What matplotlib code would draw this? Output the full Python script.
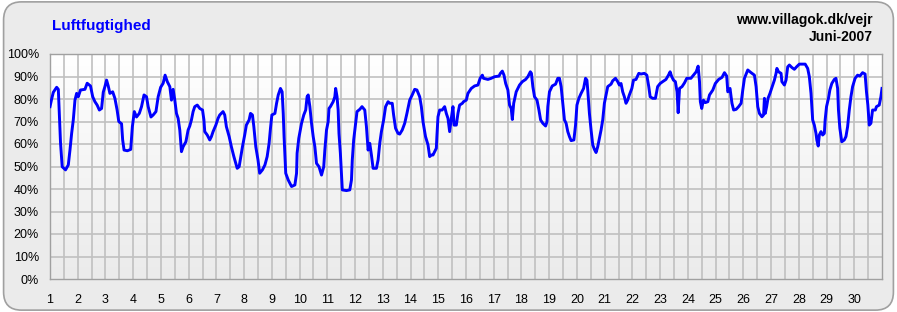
import numpy as np
import matplotlib
matplotlib.use("Agg")
import matplotlib.pyplot as plt
from matplotlib.patches import FancyBboxPatch

plt.rcParams['font.family'] = ['Liberation Sans', 'DejaVu Sans']

# time as day of month (decimal), relative humidity in %
day = [
    1.00, 1.06, 1.12, 1.24, 1.30, 1.34, 1.38, 1.44, 1.56, 1.66, 1.72, 1.78, 1.84, 1.90, 1.96,
    2.02, 2.10, 2.26, 2.34, 2.46, 2.54, 2.62, 2.70, 2.78, 2.86, 2.92, 2.98,
    3.04, 3.10, 3.16, 3.26, 3.34, 3.42, 3.48, 3.58, 3.62, 3.67, 3.79, 3.91, 3.97,
    4.04, 4.12, 4.22, 4.30, 4.39, 4.48, 4.54, 4.64, 4.72, 4.82, 4.90, 4.99,
    5.08, 5.15, 5.23, 5.32, 5.38, 5.44, 5.50, 5.56, 5.62, 5.68, 5.74, 5.80, 5.90, 5.98,
    6.04, 6.10, 6.16, 6.22, 6.31, 6.40, 6.50, 6.55, 6.58, 6.67, 6.76, 6.82, 6.88, 6.98,
    7.06, 7.12, 7.24, 7.30, 7.36, 7.46, 7.54, 7.63, 7.70, 7.75, 7.82, 7.87, 7.94,
    8.02, 8.08, 8.18, 8.23, 8.30, 8.35, 8.42, 8.50, 8.56, 8.66, 8.75, 8.83, 8.90, 8.95,
    9.00, 9.11, 9.17, 9.23, 9.31, 9.37, 9.41, 9.44, 9.50, 9.59, 9.71, 9.83, 9.89, 9.91, 9.97,
    10.07, 10.15, 10.22, 10.27, 10.31, 10.37, 10.43, 10.49, 10.55, 10.61, 10.70, 10.79, 10.87, 10.91, 10.97,
    11.03, 11.06, 11.11, 11.21, 11.27, 11.30, 11.35, 11.39, 11.42, 11.47, 11.51, 11.54, 11.69, 11.81, 11.87, 11.90, 11.95,
    12.02, 12.07, 12.17, 12.25, 12.35, 12.41, 12.47, 12.53, 12.59, 12.65, 12.77, 12.83, 12.89, 12.95,
    13.03, 13.10, 13.19, 13.25, 13.34, 13.39, 13.46, 13.55, 13.61, 13.70, 13.79, 13.87, 13.97,
    14.06, 14.15, 14.23, 14.33, 14.39, 14.45, 14.54, 14.63, 14.69, 14.75, 14.81, 14.87, 14.93, 14.95, 14.99,
    15.05, 15.14, 15.23, 15.29, 15.35, 15.41, 15.47, 15.53, 15.57, 15.65, 15.71, 15.77, 15.87, 15.91,
    16.01, 16.07, 16.19, 16.31, 16.43, 16.51, 16.59, 16.63, 16.79, 16.91,
    17.03, 17.19, 17.24, 17.31, 17.37, 17.43, 17.51, 17.57, 17.63, 17.67, 17.72, 17.81, 17.93,
    18.03, 18.15, 18.23, 18.32, 18.36, 18.41, 18.47, 18.56, 18.63, 18.69, 18.77, 18.87, 18.92, 18.95,
    19.01, 19.11, 19.23, 19.31, 19.37, 19.43, 19.49, 19.55, 19.61, 19.67, 19.73, 19.79, 19.89, 19.95,
    20.00, 20.07, 20.15, 20.24, 20.31, 20.36, 20.39, 20.45, 20.51, 20.57, 20.63, 20.69, 20.75, 20.81, 20.87, 20.93, 20.99,
    21.05, 21.11, 21.23, 21.29, 21.39, 21.47, 21.53, 21.59, 21.65, 21.71, 21.77, 21.83, 21.89, 21.98,
    22.04, 22.13, 22.23, 22.31, 22.43, 22.52, 22.59, 22.64, 22.73, 22.83, 22.91,
    23.00, 23.09, 23.21, 23.30, 23.36, 23.41, 23.48, 23.55, 23.61, 23.65, 23.70, 23.79, 23.88, 23.96,
    24.11, 24.20, 24.30, 24.37, 24.42, 24.45, 24.50, 24.56, 24.63, 24.72, 24.78, 24.90, 24.99,
    25.11, 25.23, 25.32, 25.40, 25.44, 25.52, 25.59, 25.65, 25.74, 25.83, 25.92, 25.98,
    26.04, 26.16, 26.28, 26.40, 26.46, 26.52, 26.58, 26.67, 26.73, 26.76, 26.79, 26.84, 26.89, 26.96,
    27.06, 27.12, 27.18, 27.21, 27.27, 27.36, 27.39, 27.48, 27.54, 27.60, 27.66, 27.75, 27.84, 27.92,
    28.02, 28.14, 28.23, 28.32, 28.38, 28.44, 28.50, 28.56, 28.62, 28.65, 28.70, 28.74, 28.80, 28.86, 28.92, 28.95,
    29.00, 29.07, 29.12, 29.19, 29.28, 29.34, 29.40, 29.43, 29.48, 29.55, 29.64, 29.70, 29.76, 29.82, 29.88, 29.94,
    30.03, 30.12, 30.20, 30.30, 30.39, 30.44, 30.49, 30.54, 30.60, 30.66, 30.76, 30.80, 30.90, 30.96, 31.00,
]
humidity = [
    76.6, 80.0, 83.0, 85.2, 84.3, 72.0, 60.3, 49.9, 48.5, 50.7, 57.3, 64.7, 70.7, 79.5, 82.5,
    81.0, 84.0, 84.3, 87.0, 85.8, 81.0, 78.8, 77.3, 75.1, 75.8, 83.0, 85.5,
    88.4, 85.8, 82.5, 83.2, 80.3, 75.1, 70.0, 69.0, 61.8, 57.3, 57.0, 57.6, 67.7,
    74.4, 72.0, 73.6, 76.6, 81.8, 81.0, 76.6, 72.0, 72.9, 74.4, 81.0, 85.2,
    87.0, 90.6, 87.7, 85.5, 79.5, 84.3, 79.5, 73.6, 71.4, 66.2, 56.6, 58.8, 61.0, 66.2,
    68.0, 70.7, 74.4, 76.6, 77.3, 75.8, 75.1, 70.7, 65.5, 64.0, 61.8, 63.3, 65.5, 68.4,
    71.4, 72.9, 74.4, 72.9, 67.7, 63.3, 58.8, 54.4, 51.4, 49.2, 49.9, 53.6, 58.8,
    64.0, 68.4, 70.7, 73.6, 72.9, 67.7, 58.8, 52.9, 47.0, 48.5, 50.7, 54.4, 60.3, 67.0,
    72.9, 73.6, 78.1, 81.8, 84.7, 83.2, 73.6, 63.3, 47.0, 44.0, 41.1, 41.8, 47.0, 55.9, 62.5,
    69.2, 72.9, 75.1, 81.0, 81.8, 76.6, 69.2, 63.3, 58.8, 51.4, 49.9, 46.2, 49.9, 57.3, 66.2,
    69.9, 75.8, 76.6, 78.8, 81.0, 84.7, 81.0, 75.1, 64.7, 55.9, 47.0, 39.6, 39.3, 39.6, 44.0, 52.9, 61.8,
    69.2, 74.4, 75.4, 76.6, 75.1, 67.7, 57.3, 60.3, 55.1, 49.2, 49.2, 52.9, 60.3, 65.5,
    70.7, 76.6, 78.8, 78.1, 78.1, 72.9, 67.0, 64.7, 64.4, 66.2, 69.2, 73.6, 79.5,
    81.8, 84.3, 84.0, 81.0, 76.6, 69.9, 63.3, 59.6, 54.4, 55.1, 55.1, 56.6, 58.1, 63.3, 72.1,
    75.1, 75.1, 76.6, 73.6, 71.4, 65.5, 71.4, 76.6, 68.4, 68.4, 73.6, 77.3, 78.1, 78.8,
    79.5, 82.5, 84.7, 85.8, 86.2, 89.2, 90.6, 89.2, 88.7, 89.2,
    89.9, 90.2, 91.4, 92.4, 90.6, 86.9, 84.0, 77.3, 75.8, 70.9, 78.1, 83.2, 86.2,
    87.7, 88.7, 89.9, 92.1, 91.4, 85.5, 81.0, 79.5, 75.1, 70.7, 69.2, 68.0, 69.9, 76.6,
    83.2, 85.8, 86.6, 89.2, 89.2, 85.5, 78.1, 70.7, 69.2, 65.5, 63.3, 61.5, 61.8, 68.4,
    77.3, 80.3, 82.5, 84.7, 89.2, 88.4, 84.0, 73.6, 66.2, 59.6, 57.6, 56.2, 58.8, 62.5, 66.2, 70.7, 78.1,
    81.8, 85.5, 86.6, 88.1, 89.2, 87.7, 86.2, 86.9, 83.2, 81.0, 78.1, 79.5, 81.8, 84.7,
    88.4, 88.7, 91.4, 91.1, 91.4, 90.6, 85.5, 81.0, 80.3, 80.3, 85.5,
    86.9, 87.7, 88.7, 90.6, 92.1, 90.2, 88.4, 87.7, 83.2, 73.9, 84.7, 85.5, 87.2, 89.2,
    89.2, 90.6, 92.1, 94.6, 87.7, 78.8, 75.8, 79.5, 78.4, 78.8, 81.8, 84.0, 86.9,
    88.7, 89.6, 91.7, 90.2, 83.2, 84.7, 78.1, 75.1, 75.4, 76.6, 78.1, 84.0,
    89.2, 92.9, 91.7, 90.6, 85.5, 76.6, 73.6, 72.1, 72.9, 80.3, 73.6, 76.6, 80.3, 82.5,
    86.2, 88.4, 91.4, 93.6, 92.1, 91.4, 87.7, 86.2, 88.4, 94.3, 95.1, 94.0, 93.2, 94.3,
    95.5, 95.5, 95.5, 93.6, 89.9, 82.5, 70.7, 68.4, 64.7, 61.8, 59.1, 64.0, 65.5, 64.0, 64.7, 70.7,
    76.6, 80.3, 84.0, 86.9, 88.7, 89.2, 84.7, 75.1, 67.0, 61.0, 61.8, 63.3, 67.7, 75.1, 81.0, 85.5,
    89.2, 90.6, 90.2, 91.7, 91.1, 83.2, 77.3, 68.4, 69.2, 75.1, 75.1, 76.6, 77.3, 81.0, 84.7,
]

x_ticks = list(range(1, 31))
y_ticks = list(range(0, 101, 10))
title = "Luftfugtighed"
site = "www.villagok.dk/vejr"
month = "Juni-2007"

fig = plt.figure(figsize=(8.97, 3.12), dpi=100, facecolor="white")

# rounded panel behind everything
panel = FancyBboxPatch((0.004, 0.006), 0.992, 0.988,
                       boxstyle="round,pad=0,rounding_size=0.02",
                       transform=fig.transFigure, facecolor="#ebebeb",
                       edgecolor="#a0a0a0", linewidth=1.2, mutation_aspect=2.9,
                       zorder=-10)
fig.add_artist(panel)

ax = fig.add_axes([50 / 897, 1 - 279 / 312, 832 / 897, 225 / 312])
ax.set_zorder(1)
ax.set_xlim(1, 31)
ax.set_ylim(0, 100)

# vertical white-to-grey gradient in the plot area
grad = np.linspace(0, 1, 256).reshape(-1, 1)
ax.imshow(grad, extent=(1, 31, 0, 100), aspect="auto", origin="upper",
          cmap=matplotlib.colors.LinearSegmentedColormap.from_list("g", ["#ffffff", "#ebebeb"]),
          zorder=0)

for xv in np.arange(1.5, 31, 0.5):
    ax.axvline(xv, color="#c0c0c0", lw=1.2, zorder=1)
for yv in y_ticks[1:]:
    ax.axhline(yv, color="#c0c0c0", lw=1.2, zorder=1)

ax.plot(day, humidity, color="#0000ff", lw=2.1, zorder=3)

ax.set_xticks(x_ticks)
ax.set_yticks(y_ticks)
ax.set_yticklabels([f"{v}%" for v in y_ticks])
ax.tick_params(axis="both", length=0, labelsize=9)
ax.tick_params(axis="x", pad=11)
ax.tick_params(axis="y", pad=8)
for s in ax.spines.values():
    s.set_color("#a0a0a0")
    s.set_linewidth(1.0)

fig.text(52 / 897, 0.917, title, color="#0000ff", fontsize=11, fontweight="bold",
         ha="left", va="center")
fig.text(873 / 897, 0.936, site, color="black", fontsize=10, fontweight="bold",
         ha="right", va="center")
fig.text(873 / 897, 0.881, month, color="black", fontsize=10, fontweight="bold",
         ha="right", va="center")

fig.savefig("out.png", dpi=100, facecolor=fig.get_facecolor())
